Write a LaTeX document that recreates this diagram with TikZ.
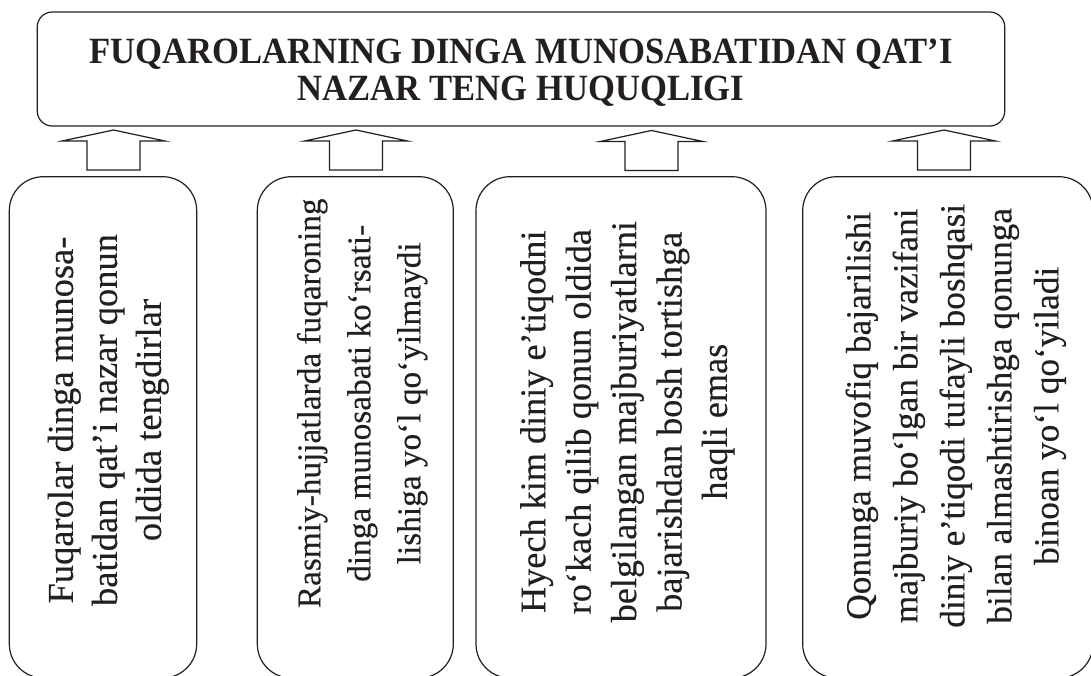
\documentclass[tikz,border=0pt]{standalone}
\usepackage{fontspec}
\setmainfont{Liberation Serif}
\definecolor{ink}{RGB}{35,31,32}
\begin{document}
\begin{tikzpicture}[x=1pt,y=-1pt,line width=1.2pt,color=ink,
  topbox/.style={draw,rounded corners=15pt,inner sep=0pt,minimum width=967.5pt,minimum height=114pt},
  lowbox/.style={draw,rounded corners=34pt,inner sep=0pt,minimum height=501.3pt,minimum width=#1},
  titletext/.style={align=center,inner sep=0pt,xscale=0.936,font=\fontsize{37}{37}\selectfont\bfseries},
  bodytext/.style={align=center,inner sep=0pt,rotate=90},
  uparrow/.pic={\draw[line join=miter] (-26.5,0) -- (-26.5,-29) -- (-51.5,-29) -- (0,-40) -- (51.5,-29) -- (26.5,-29) -- (26.5,0) -- cycle;}]
\clip (0,0) rectangle (1091,675);
\fill[white] (0,0) rectangle (1091,675);
% top box
\node[topbox] (top) at (521,69) {};
\node[titletext] (title) at (521,72.5) {FUQAROLARNING DINGA MUNOSABATIDAN QAT’I\\NAZAR TENG HUQUQLIGI};
% lower boxes
\node[lowbox=187.4pt] (b1) at (103,427.35) {};
\node[lowbox=196pt] (b2) at (355.3,427.35) {};
\node[lowbox=290pt] (b3) at (621,427.35) {};
\node[lowbox=290.3pt] (b4) at (947.85,427.35) {};
% texts
\node[bodytext,font=\fontsize{36.5}{44}\selectfont\addfontfeature{FakeBold=0.3}] (t1) at (108.2,420) {Fuqarolar dinga munosa-\\batidan qat’i nazar qonun\\oldida tengdirlar};
\node[bodytext,font=\fontsize{33.3}{50}\selectfont\addfontfeature{FakeBold=0.3}] (t2) at (362.2,403.3) {Rasmiy-hujjatlarda fuqaroning\\dinga munosabati ko‘rsati-\\lishiga yo‘l qo‘yilmaydi};
\node[bodytext,font=\fontsize{36.2}{45.4}\selectfont\addfontfeature{FakeBold=0.3}] (t3) at (627.4,421.7) {Hyech kim diniy e’tiqodni\\ro‘kach qilib qonun oldida\\belgilangan majburiyatlarni\\bajarishdan bosh tortishga\\haqli emas};
\node[bodytext,font=\fontsize{35.3}{47}\selectfont\addfontfeature{FakeBold=0.3}] (t4) at (955.8,415.8) {Qonunga muvofiq bajarilishi\\majburiy bo‘lgan bir vazifani\\diniy e’tiqodi tufayli boshqasi\\bilan almashtirishga qonunga\\binoan yo‘l qo‘yiladi};
% block arrows
\pic (p1) at (113.5,170) {uparrow};
\pic (p2) at (356,170) {uparrow};
\pic (p3) at (651.5,170.5) {uparrow};
\pic (p4) at (944,170) {uparrow};
\end{tikzpicture}
\end{document}
